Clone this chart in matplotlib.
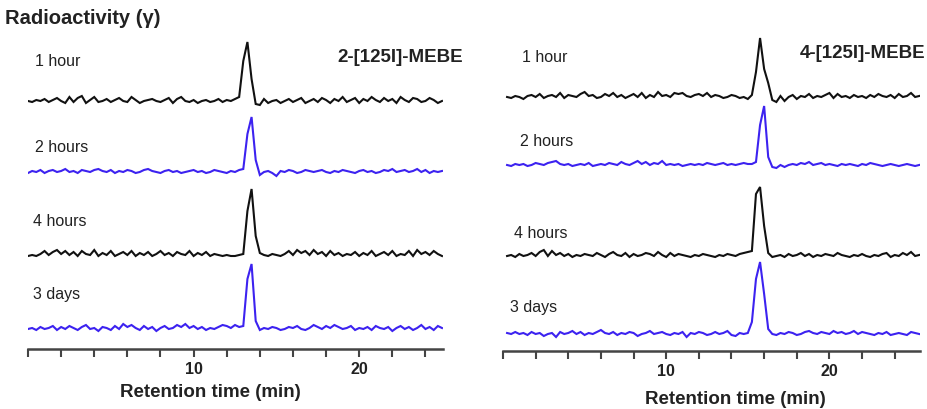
import numpy as np
import matplotlib
matplotlib.use("Agg")
import matplotlib.pyplot as plt

# ---------------- data (signal above baseline, arbitrary units) ----------------
# Left panel: 2-[125I]-MEBE, sampled every 0.25 min from 0 to 25 min
time_left = np.linspace(0.0, 25.0, 101)
left_1h = [
    0, -1, 1, 0, 2, -1, 1, 3, 0, -2,
    4, -1, 3, 5, -2, 1, 4, -1, 0, 2,
    -1, 1, 3, 0, -1, 4, 1, -2, 0, 1,
    2, 0, -1, 1, 3, -2, 2, 4, 0, -1,
    1, -2, 0, 1, -1, 0, 2, -1, 1, 0,
    2, 4, 40, 59, 22, -3, -4, 2, -2, 0,
    1, -2, 0, 2, -1, 1, 3, -2, 0, 2,
    -1, 3, 1, -2, 2, 0, 4, -1, 1, 3,
    -2, 2, 0, 4, 1, -1, 3, 0, 2, -2,
    4, 1, -1, 3, 2, -1, 0, 3, 1, -2,
    0]
left_2h = [
    -1, 1, 0, 2, -1, 1, 2, 0, 1, 3,
    0, 1, -1, 2, 1, 0, 2, 3, 1, 0,
    2, -1, 1, 0, 2, 1, -1, 0, 2, 3,
    1, 0, -1, 1, 2, 0, 1, -1, 0, 1,
    2, 0, 1, -1, 0, 2, 1, 0, -1, 1,
    0, 2, 3, 38, 55, 12, -3, 0, 1, -1,
    -4, 1, 0, 2, 1, -1, 0, 2, 1, 0,
    1, 2, 0, -1, 1, 0, 2, 1, 0, -1,
    1, 2, 0, 1, -1, 0, 2, 1, 3, 0,
    1, 2, 0, 1, 3, 0, 2, -1, 1, 0,
    1]
left_4h = [
    0, 1, 0, 2, 5, 1, 4, 6, 2, 5,
    1, 4, 0, 5, 2, 1, 6, 0, 3, 1,
    5, 0, 2, 4, 1, 5, 0, 3, 1, 4,
    0, 2, 5, 1, 3, 0, 4, 2, 1, 5,
    0, 3, 1, 4, 0, 2, 1, 0, 1, 0,
    0, 1, 2, 45, 67, 20, 3, 1, 0, 2,
    1, 0, 2, 5, 1, 6, 3, 5, 1, 6,
    2, 4, 0, 5, 1, 3, 0, 2, 1, 4,
    0, 3, 1, 5, 0, 2, 4, 1, 5, 0,
    2, 1, 5, 0, 6, 2, 4, 1, 5, 2,
    0]
left_3d = [
    0, 1, -1, 2, 0, 1, 3, -1, 2, 0,
    3, 1, -1, 2, 4, 0, 1, -2, 2, 1,
    -1, 3, 0, 5, 2, 4, 1, -1, 3, 0,
    2, -2, 1, 3, 0, 1, 4, 2, 5, 1,
    3, 0, 2, -1, 1, 0, 2, 4, 3, 1,
    4, 2, 3, 50, 65, 8, -1, 1, 0, 2,
    1, -1, 0, 2, 1, 3, 0, -1, 1, 4,
    2, 0, 3, 1, 4, 2, 0, 1, 3, -1,
    1, 0, 2, -1, 3, 1, 0, 2, -2, 1,
    3, 0, 2, -1, 1, 4, 0, 2, -1, 3,
    1]

# Right panel: 4-[125I]-MEBE, sampled every 0.25 min from 0.25 to 25.5 min
time_right = np.linspace(0.25, 25.5, 102)
right_1h = [
    0, -1, 1, 0, -2, 1, 2, 0, 3, -1,
    1, 2, 0, 4, -1, 2, 1, 0, 3, 5,
    1, 2, -1, 0, 3, 1, 4, 0, 2, -1,
    1, 3, 0, 4, -1, 2, 0, 5, 1, 2,
    0, 4, 3, 4, 1, 0, 2, 3, 1, 4,
    0, 2, 1, -1, 0, 2, 1, -1, 0, -2,
    2, 25, 59, 28, 14, -3, -5, 1, -4, 0,
    2, -2, 1, 0, 3, -1, 1, 0, 2, 4,
    -1, 3, 0, 1, -1, 2, 0, 1, -1, 2,
    0, 3, 1, 0, 2, -1, 3, 0, 1, 4,
    0, 1]
right_2h = [
    0, -1, 1, 0, 1, -1, 0, 2, 1, 0,
    2, 3, 4, 1, 0, 1, -1, 0, 1, 0,
    2, -1, 0, 1, 0, 2, 1, 0, 3, 1,
    0, 2, 4, 1, 3, 0, 2, 1, 4, 0,
    1, 0, 1, -1, 0, 1, 0, 1, 0, 2,
    1, 0, 1, 2, 0, 1, 0, 1, 2, 1,
    1, 3, 40, 59, 8, -2, -3, 0, -2, 0,
    1, 0, 2, 1, 3, 0, 1, 2, 0, 1,
    0, -1, 1, 0, 1, 0, -1, 1, 0, 2,
    1, 0, -1, 0, 1, 0, -1, 0, 1, 0,
    -1, 0]
right_4h = [
    0, 1, -1, 2, 0, 1, 3, 0, 4, 6,
    0, 5, 1, 3, 0, 2, -1, 1, 0, 2,
    1, 0, 3, 1, -1, 2, 4, 1, 0, 3,
    -1, 2, 0, 1, 3, 2, 0, 4, 1, -1,
    3, 0, 2, 1, 0, -1, 1, 0, 2, 1,
    0, -1, 1, 0, 2, 1, 0, 2, 3, 4,
    5, 62, 69, 30, 3, -1, 0, 1, -1, 2,
    0, 1, 3, 0, 2, -1, 1, 0, 2, 1,
    0, 3, 1, 0, -1, 1, 0, 2, 0, -1,
    1, 0, 2, 3, -1, 1, 0, 3, 1, 4,
    0, 1]
right_3d = [
    1, 0, 2, 0, 1, -1, 2, 0, 1, -2,
    0, 1, -3, 2, 0, 1, 3, 0, 2, -1,
    1, 0, 2, 4, 1, 0, 2, -1, 1, 0,
    2, 1, -2, 0, 1, 3, 0, 1, 2, 0,
    -1, 1, 0, 2, -3, 1, 0, 2, 1, -1,
    0, 2, 0, 1, 3, -1, -2, 1, 0, 1,
    12, 55, 72, 40, 5, 0, -1, 1, 0, 2,
    1, -1, 0, 2, 3, 1, 0, 2, 1, 0,
    3, 1, 2, 0, 1, 3, 0, 2, 1, 0,
    -1, 1, 0, 2, -1, 0, 1, 0, -1, 2,
    1, 0]

trace_labels = ["1 hour", "2 hours", "4 hours", "3 days"]
panel_titles = ["2-[125I]-MEBE", "4-[125I]-MEBE"]
tick_values = [0, 2, 4, 6, 8, 10, 12, 14, 16, 18, 20, 22, 24]
tick_labels = ["", "", "", "", "", "10", "", "", "", "", "20", "", ""]

# ---------------- layout / style ----------------
W, H = 927, 410
BLACK = "#111111"
BLUE = "#3c22f0"
TEXT = "#222222"
trace_colors = [BLACK, BLUE, BLACK, BLUE]

plt.rcParams["font.family"] = ["Liberation Sans", "DejaVu Sans"]
fig = plt.figure(figsize=(W / 100, H / 100), dpi=100)


def frac(x, y):
    return x / W, 1 - y / H


panels = [
    dict(px=(28, 443), py=(30, 350), xlim=(0.0, 25.06), t=time_left,
         series=[left_1h, left_2h, left_4h, left_3d],
         offsets=[248, 177, 93, 20],
         label_pos=[(35, 62), (35, 147), (33, 222), (33, 295)],
         title_pos=(463, 58), xlabel_pos=(210, 393)),
    dict(px=(503, 920), py=(30, 352), xlim=(0.12, 25.55), t=time_right,
         series=[right_1h, right_2h, right_4h, right_3d],
         offsets=[254, 186, 95, 17],
         label_pos=[(522, 58), (520, 142), (514, 234), (510, 308)],
         title_pos=(925, 53), xlabel_pos=(735, 400)),
]

for i, p in enumerate(panels):
    x0, x1 = p["px"]
    y0, y1 = p["py"]
    ax = fig.add_axes([x0 / W, 1 - y1 / H, (x1 - x0) / W, (y1 - y0) / H])
    for s, off, col in zip(p["series"], p["offsets"], trace_colors):
        ax.plot(p["t"], np.asarray(s) + off, color=col, lw=1.5,
                solid_joinstyle="miter")
    ax.set_xlim(*p["xlim"])
    ax.set_ylim(0, y1 - y0)
    for side in ["top", "right", "left"]:
        ax.spines[side].set_visible(False)
    ax.spines["bottom"].set_color("#444444")
    ax.spines["bottom"].set_linewidth(1.8)
    ax.set_yticks([])
    ax.set_xticks(tick_values)
    ax.set_xticklabels(tick_labels, fontsize=11.5, fontweight="bold", color=TEXT)
    ax.tick_params(axis="x", direction="out", length=6, width=1.5,
                   color="#444444", pad=3)
    ax.patch.set_alpha(0)

    for lab, (lx, ly) in zip(trace_labels, p["label_pos"]):
        fig.text(*frac(lx, ly), lab, fontsize=11.5, color=TEXT,
                 ha="left", va="center")
    tx, ty = p["title_pos"]
    fig.text(*frac(tx, ty), panel_titles[i], fontsize=13.5, fontweight="bold",
             color=TEXT, ha="right", va="center")
    xx, xy = p["xlabel_pos"]
    fig.text(*frac(xx, xy), "Retention time (min)", fontsize=13.5,
             fontweight="bold", color=TEXT, ha="center", va="center")

fig.text(*frac(5, 18), "Radioactivity (γ)", fontsize=14.5, fontweight="bold",
         color=TEXT, ha="left", va="center")

fig.savefig("out.png", dpi=100)
